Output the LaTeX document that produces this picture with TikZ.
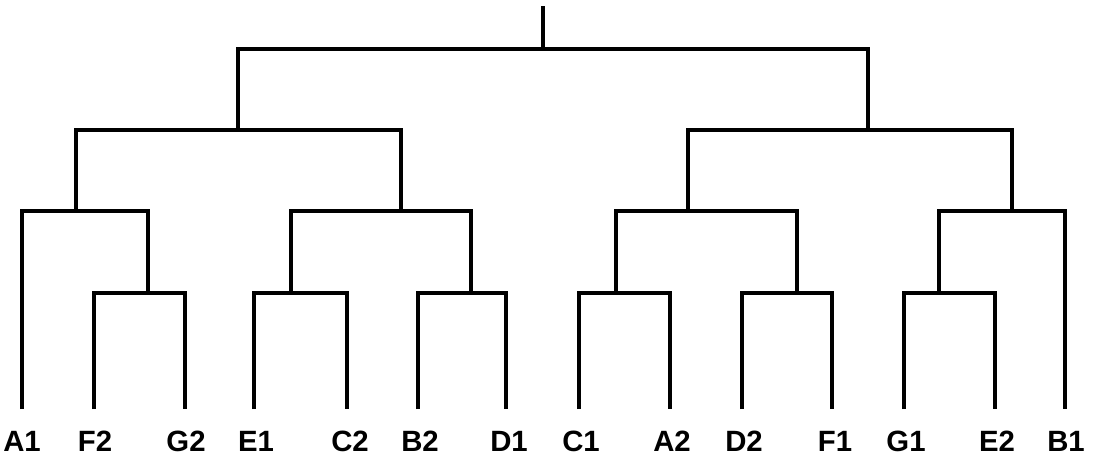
\documentclass[tikz,border=0pt]{standalone}
\usepackage{fontspec}
\setmainfont{Liberation Sans}
\usepackage{tikz}

\begin{document}
\begin{tikzpicture}[x=0.75pt, y=-0.75pt, line width=3.4pt, line join=miter,
    leaf/.style={font=\fontsize{22}{24}\selectfont\bfseries, inner sep=0pt}]
    \useasboundingbox (0,0) rectangle (1095,466);
    \node[leaf] (a1) at (22, 441) {A1};
    \node[leaf] (f2) at (95, 441) {F2};
    \node[leaf] (g2) at (186, 441) {G2};
    \node[leaf] (e1) at (256, 441) {E1};
    \node[leaf] (c2) at (350, 441) {C2};
    \node[leaf] (b2) at (420, 441) {B2};
    \node[leaf] (d1) at (509, 441) {D1};
    \node[leaf] (c1) at (581, 441) {C1};
    \node[leaf] (a2) at (672, 441) {A2};
    \node[leaf] (d2) at (744, 441) {D2};
    \node[leaf] (f1) at (835, 441) {F1};
    \node[leaf] (g1) at (906, 441) {G1};
    \node[leaf] (e2) at (997, 441) {E2};
    \node[leaf] (b1) at (1066, 441) {B1};
    \coordinate (la1) at (22, 409);
    \coordinate (lf2) at (94, 409);
    \coordinate (lg2) at (185, 409);
    \coordinate (le1) at (254, 409);
    \coordinate (lc2) at (347, 409);
    \coordinate (lb2) at (418, 409);
    \coordinate (ld1) at (506, 409);
    \coordinate (lc1) at (579, 409);
    \coordinate (la2) at (670, 409);
    \coordinate (ld2) at (742, 409);
    \coordinate (lf1) at (832, 409);
    \coordinate (lg1) at (904, 409);
    \coordinate (le2) at (995, 409);
    \coordinate (lb1) at (1065, 409);
    \coordinate (fg) at (148, 293);
    \coordinate (ec) at (291, 293);
    \coordinate (bd) at (471, 293);
    \coordinate (ca) at (616, 293);
    \coordinate (df) at (797, 293);
    \coordinate (ge) at (939, 293);
    \coordinate (afg) at (76, 211);
    \coordinate (ecbd) at (401, 211);
    \coordinate (cadf) at (688, 211);
    \coordinate (geb) at (1012, 211);
    \coordinate (l) at (238, 130);
    \coordinate (r) at (868, 130);
    \coordinate (t) at (543, 49);
    \coordinate (top) at (543, 6);
    \draw (lf2) |- (fg) -| (lg2);
    \draw (le1) |- (ec) -| (lc2);
    \draw (lb2) |- (bd) -| (ld1);
    \draw (lc1) |- (ca) -| (la2);
    \draw (ld2) |- (df) -| (lf1);
    \draw (lg1) |- (ge) -| (le2);
    \draw (la1) |- (afg) -| (fg);
    \draw (ec) |- (ecbd) -| (bd);
    \draw (ca) |- (cadf) -| (df);
    \draw (ge) |- (geb) -| (lb1);
    \draw (afg) |- (l) -| (ecbd);
    \draw (cadf) |- (r) -| (geb);
    \draw (l) |- (t) -| (r);
    \draw (t) -- (top);
\end{tikzpicture}
\end{document}
